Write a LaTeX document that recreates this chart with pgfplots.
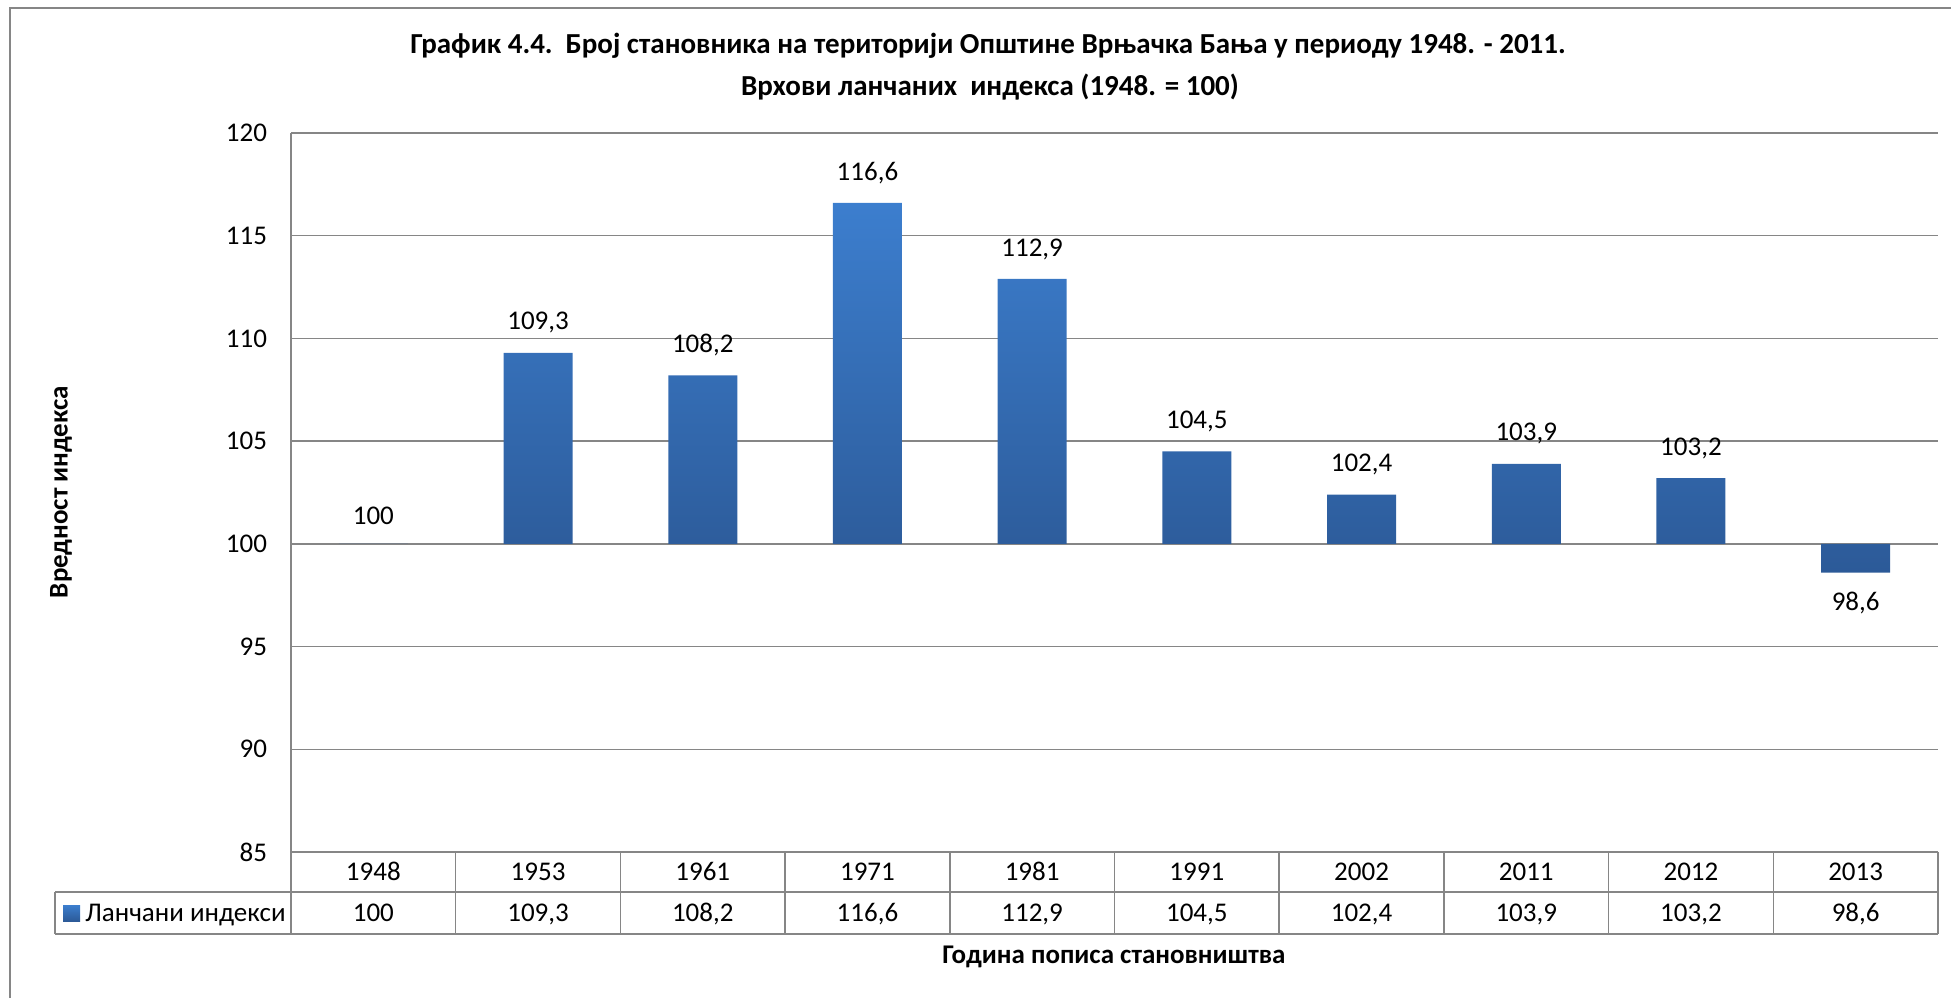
\documentclass[border=0pt]{standalone}
\usepackage{pgfplots}
\pgfplotsset{compat=1.18}
\usepackage{pgfplotstable}
\usepackage{fontspec}
\setmainfont{Carlito}
\definecolor{bartop}{RGB}{60,126,206}
\definecolor{barbot}{RGB}{44,90,152}
\definecolor{gridc}{RGB}{134,134,134}
\pgfplotstableread{
x v
0.5 100
1.5 109.3
2.5 108.2
3.5 116.6
4.5 112.9
5.5 104.5
6.5 102.4
7.5 103.9
8.5 103.2
9.5 98.6
}\datatable
\newcommand\lbl{\fontsize{13.5pt}{16pt}\selectfont}
\newcommand\ttl{\fontsize{13.5pt}{16pt}\selectfont\bfseries}
\newcommand\ttlb{\fontsize{14.5pt}{17pt}\selectfont\bfseries}
\begin{document}
\begin{tikzpicture}
\begin{scope}[x=0.5pt,y=-0.5pt]
\path[use as bounding box] (0,0) rectangle (1951,998);
\draw[gridc, line width=1pt] (10,998) -- (10,8) -- (1951,8);
\end{scope}
\begin{axis}[at={(145.5pt,-426pt)}, anchor=south west, scale only axis,
 width=823.5pt, height=359.5pt,
 xmin=0, xmax=10, ymin=-15, ymax=20,
 axis x line*=bottom, axis y line*=left,
 axis line style={gridc, line width=0.75pt, -},
 ymajorgrids, grid style={gridc, line width=0.75pt},
 major tick length=0pt,
 ytick={-15,-10,-5,0,5,10,15,20},
 yticklabels={85,90,95,100,105,110,115,120},
 yticklabel style={font=\lbl, xshift=-8.5pt},
 xtick={0.5,1.5,2.5,3.5,4.5,5.5,6.5,7.5,8.5,9.5},
 xticklabels={1948,1953,1961,1971,1981,1991,2002,2011,2012,2013},
 xticklabel style={font=\lbl, anchor=base, yshift=-14pt},
 extra x ticks={0.5,1.5,2.5,3.5,4.5,5.5,6.5,7.5,8.5,9.5},
 extra x tick labels={100,{109,3},{108,2},{116,6},{112,9},{104,5},{102,4},{103,9},{103,2},{98,6}},
 extra x tick style={xticklabel style={yshift=-20.75pt}},
 /pgf/number format/assume math mode=true,
 clip=false,
]
\addplot[ybar, bar width=34.5pt, draw=none, top color=bartop, bottom color=barbot,
  nodes near coords={\pgfkeys{/pgf/fpu=true}\pgfmathparse{\pgfplotspointmeta+100}\pgfmathprintnumber[use comma, fixed, precision=1]{\pgfmathresult}},
  nodes near coords align={vertical},
  nodes near coords style={font=\lbl, inner sep=9.5pt, text=black}]
  table[x=x, y expr=\thisrow{v}-100] {\datatable};
\end{axis}
\begin{scope}[x=0.5pt,y=-0.5pt]
% data table grid
\draw[gridc, line width=0.75pt] (55,892) -- (1938,892);
\draw[gridc, line width=0.75pt] (55,934) -- (1938,934);
\draw[gridc, line width=0.75pt] (55,892) -- (55,934);
\foreach \k in {0,...,10} {
  \draw[gridc, line width=0.75pt] ({291+\k*164.7},852) -- ({291+\k*164.7},934);
}
\shade[top color=bartop, bottom color=barbot] (63,905) rectangle (80,921);
\node[anchor=base west, inner sep=0pt, font=\lbl] at (85,921) {Ланчани индекси};
% titles
\node[anchor=base, inner sep=0pt, font=\ttlb] at (988,53) {График 4.4.\hspace{6.5pt}Број становника на територији Општине Врњачка Бања у периоду 1948. - 2011.};
\node[anchor=base, inner sep=0pt, font=\ttlb] at (990,95) {Врхови ланчаних\ \ индекса (1948. = 100)};
\node[anchor=base, inner sep=0pt, font=\ttl] at (1114,963) {Година пописа становништва};
\node[rotate=90, inner sep=0pt, font=\ttl] at (61,492) {Вредност индекса};
\end{scope}
\end{tikzpicture}
\end{document}
